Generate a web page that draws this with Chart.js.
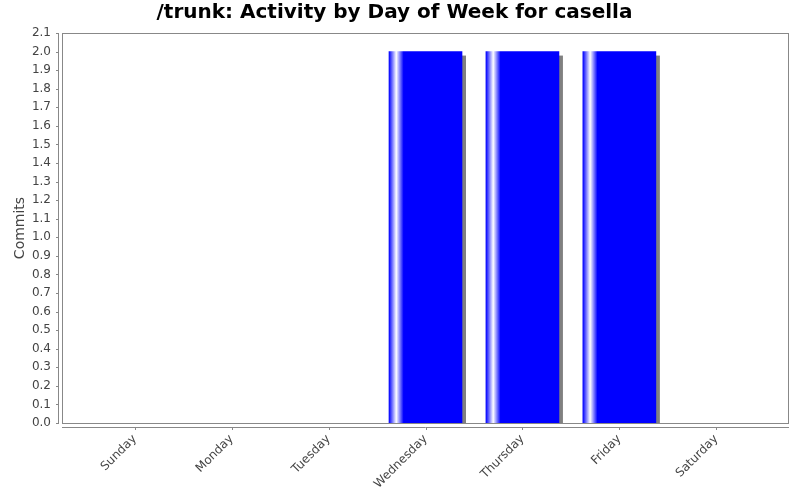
<!DOCTYPE html>
<html>
<head>
<meta charset="UTF-8">
<title>Activity by Day of Week</title>
<style>
  body { margin: 0; background: #fff; }
</style>
</head>
<body>
<canvas id="chart" width="800" height="500"></canvas>

<script src="https://cdn.jsdelivr.net/npm/chart.js@4.4.0/dist/chart.umd.min.js"></script>

<script>
const days = ['Sunday', 'Monday', 'Tuesday', 'Wednesday', 'Thursday', 'Friday', 'Saturday'];
const commits = [0, 0, 0, 2, 2, 2, 0];
const yTicks = [0.0, 0.1, 0.2, 0.3, 0.4, 0.5, 0.6, 0.7, 0.8, 0.9, 1.0,
                1.1, 1.2, 1.3, 1.4, 1.5, 1.6, 1.7, 1.8, 1.9, 2.0, 2.1];

const AXIS = '#888888';
const BLUE = '#0000ff';

// jfreechart style frame: plot box, offset axis lines, short tick marks, bar shadows
const frame = {
  id: 'frame',
  beforeDatasetsDraw(chart) {
    const c = chart.ctx, a = chart.chartArea;
    c.save();
    c.beginPath();
    c.rect(a.left, a.top, a.right - a.left, a.bottom - a.top);
    c.clip();
    c.fillStyle = '#808080';
    chart.getDatasetMeta(0).data.forEach((el, i) => {
      if (!commits[i]) return;
      const left = el.x - el.width / 2 + 4;
      c.fillRect(left, el.y + 4, el.width, el.base - el.y);
    });
    c.restore();
  },
  afterDatasetsDraw(chart) {
    const c = chart.ctx, a = chart.chartArea;
    const xs = chart.scales.x, ys = chart.scales.y;
    c.save();
    c.strokeStyle = AXIS;
    c.lineWidth = 1;
    c.strokeRect(a.left + 0.5, a.top + 0.5, a.right - a.left - 1, a.bottom - a.top);
    c.beginPath();
    c.moveTo(a.left - 3.5, a.top);
    c.lineTo(a.left - 3.5, a.bottom + 1);
    c.moveTo(a.left, a.bottom + 4.5);
    c.lineTo(a.right, a.bottom + 4.5);
    yTicks.forEach(v => {
      const y = Math.round(ys.getPixelForValue(v)) + 0.5;
      c.moveTo(a.left - 6, y);
      c.lineTo(a.left - 3.5, y);
    });
    days.forEach((d, i) => {
      const x = Math.round(xs.getPixelForValue(i)) + 0.5;
      c.moveTo(x, a.bottom + 4.5);
      c.lineTo(x, a.bottom + 7);
    });
    c.stroke();
    c.restore();
  }
};

const chart = new Chart(document.getElementById('chart'), {
  type: 'bar',
  data: {
    datasets: [{
      data: commits.map((v, i) => ({ x: i, y: v })),
      barThickness: 73,
      borderWidth: 0,
      backgroundColor(ctx) {
        const xs = ctx.chart.scales.x;
        if (!xs || ctx.dataIndex === undefined) return BLUE;
        if (!commits[ctx.dataIndex]) return 'rgba(0,0,0,0)';
        const left = xs.getPixelForValue(ctx.dataIndex) - 36.5;
        if (!isFinite(left)) return BLUE;
        const w = 73;
        const g = ctx.chart.ctx.createLinearGradient(left, 0, left + w, 0);
        g.addColorStop(0, BLUE);
        g.addColorStop(0.1, '#ffffff');
        g.addColorStop(0.2, BLUE);
        g.addColorStop(1, BLUE);
        return g;
      }
    }]
  },
  options: {
    responsive: false,
    animation: false,
    layout: { padding: { right: 11 } },
    plugins: {
      legend: { display: false },
      tooltip: { enabled: false },
      title: {
        display: true,
        text: '/trunk: Activity by Day of Week for casella',
        color: '#000',
        font: { family: 'DejaVu Sans', size: 20, weight: 'bold' },
        padding: { top: 1, bottom: 8 }
      }
    },
    scales: {
      x: {
        type: 'linear',
        min: -0.75,
        max: 6.75,
        offset: false,
        grid: { display: false, offset: false },
        border: { display: false },
        afterBuildTicks(s) { s.ticks = days.map((d, i) => ({ value: i })); },
        afterFit(s) { s.height = 77; },
        ticks: {
          autoSkip: false,
          minRotation: 45,
          maxRotation: 45,
          padding: 1,
          color: '#444',
          font: { family: 'DejaVu Sans', size: 12 },
          callback: (v) => days[v]
        }
      },
      y: {
        min: 0,
        max: 2.1,
        grid: { display: false },
        border: { display: false },
        afterBuildTicks(s) { s.ticks = yTicks.map(v => ({ value: v })); },
        afterFit(s) { s.width = 62; },
        ticks: {
          padding: 3,
          color: '#444',
          font: { family: 'DejaVu Sans', size: 12 },
          callback: (v) => Number(v).toFixed(1)
        },
        title: {
          display: true,
          text: 'Commits',
          color: '#444',
          font: { family: 'DejaVu Sans', size: 14 },
          padding: { top: 12, bottom: 0 }
        }
      }
    }
  },
  plugins: [frame]
});
</script>
</body>
</html>
